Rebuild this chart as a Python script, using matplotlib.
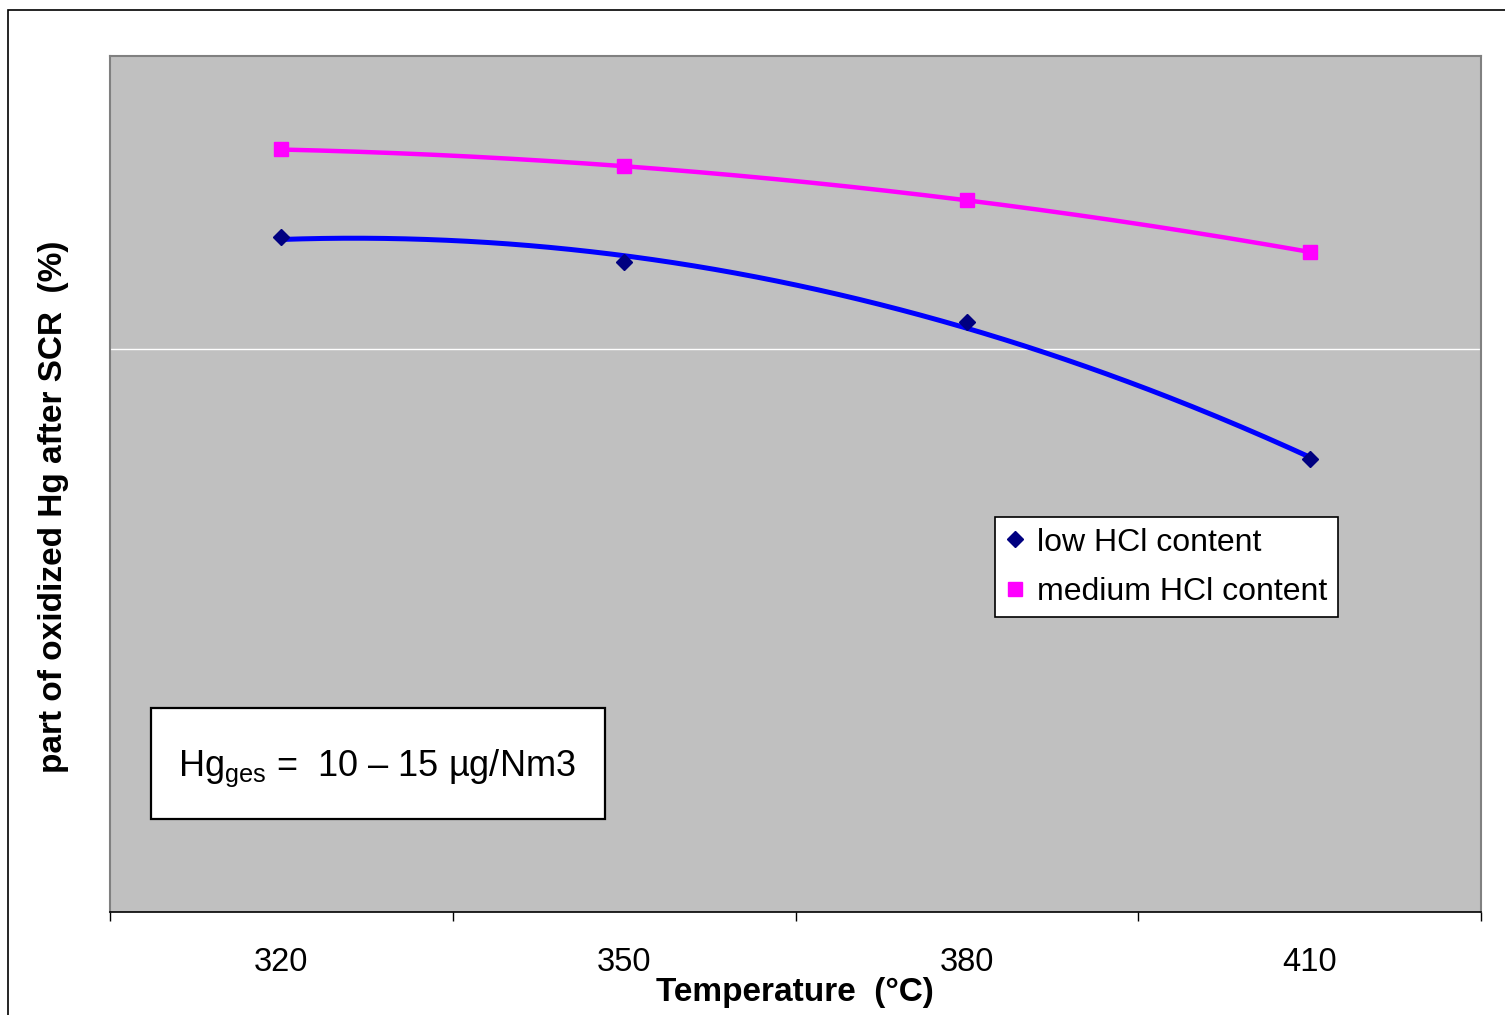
import numpy as np
import matplotlib
matplotlib.use("Agg")
import matplotlib.pyplot as plt
from matplotlib.patches import Rectangle

plt.rcParams['font.family'] = ['Liberation Sans', 'DejaVu Sans']
plt.rcParams['mathtext.fontset'] = 'custom'
plt.rcParams['mathtext.rm'] = 'Liberation Sans'
plt.rcParams['mathtext.it'] = 'Liberation Sans'

# ---- data ----
categories = ["320", "350", "380", "410"]
low_hcl = [59.9, 57.7, 52.4, 40.2]
medium_hcl = [67.7, 66.2, 63.2, 58.6]
series_names = ["low HCl content", "medium HCl content"]

W, H = 1505, 1015
fig = plt.figure(figsize=(W / 100, H / 100), dpi=100)

def fx(px):
    return px / W

def fy(py):
    return 1 - py / H

# outer chart border (only left and top visible)
fig.patches.append(Rectangle((fx(8), fy(1100)), fx(1700), (1100 - 10) / H,
                             transform=fig.transFigure, fill=False,
                             edgecolor='black', linewidth=1.2, clip_on=False))

left, right, top, bottom = 110, 1481, 56, 912
ax = fig.add_axes([fx(left), fy(bottom), (right - left) / W, (bottom - top) / H])
ax.set_facecolor('#C0C0C0')

x = np.arange(len(categories))
ax.set_xlim(-0.5, len(categories) - 0.5)
ax.set_ylim(0, 76)

# gridline
ax.set_yticks([50])
ax.yaxis.grid(True, color='white', linewidth=1.0)
ax.tick_params(axis='y', left=False, labelleft=False)
ax.set_axisbelow(True)

# trendlines (2nd order polynomial fit, as in the original)
xs = np.linspace(0, len(categories) - 1, 300)
c_low = np.polyfit(x, low_hcl, 2)
c_med = np.polyfit(x, medium_hcl, 2)
ax.plot(xs, np.polyval(c_med, xs), color='#FF00FF', linewidth=3.2, zorder=2)
ax.plot(xs, np.polyval(c_low, xs), color='#0000FF', linewidth=3.6, zorder=2)

# data markers
ax.plot(x, low_hcl, linestyle='none', marker='D', markersize=7.8,
        color='#000080', label=series_names[0], zorder=3)
ax.plot(x, medium_hcl, linestyle='none', marker='s', markersize=9.5,
        color='#FF00FF', label=series_names[1], zorder=3)

# x axis ticks
ax.set_xticks(x)
ax.set_xticklabels(categories, fontsize=23.5)
ax.set_xticks(np.arange(-0.5, len(categories)), minor=True)
ax.tick_params(axis='x', which='major', length=0, pad=25)
ax.tick_params(axis='x', which='minor', length=6.5, width=1.0, direction='out', color='black')

for s in ['left', 'top', 'right']:
    ax.spines[s].set_color('#808080')
    ax.spines[s].set_linewidth(1.5)
ax.spines['bottom'].set_color('black')
ax.spines['bottom'].set_linewidth(1.2)

# axis titles
fig.text(fx(795), fy(992), "Temperature  (°C)", fontsize=24, fontweight='bold',
         ha='center', va='center')
fig.text(fx(54), fy(507), "part of oxidized Hg after SCR  (%)", fontsize=24,
         fontweight='bold', rotation=90, ha='center', va='center')

# legend
leg = ax.legend(loc='upper left', bbox_to_anchor=(fx(995), fy(517)),
                bbox_transform=fig.transFigure, borderaxespad=0,
                fontsize=23, frameon=True, fancybox=False, framealpha=1,
                edgecolor='black', borderpad=0.33, labelspacing=0.6,
                handlelength=0.6, handletextpad=0.38, markerscale=1.0)
leg.get_frame().set_linewidth(1.2)

# annotation box
fig.patches.append(Rectangle((fx(151), fy(819)), (605 - 151) / W, (819 - 708) / H,
                             transform=fig.transFigure, facecolor='white',
                             edgecolor='black', linewidth=1.6, zorder=5))
fig.text(fx(377), fy(768), r"Hg$_{\mathrm{ges}}$ =  10 – 15 µg/Nm3", fontsize=26,
         ha='center', va='center', zorder=6)

fig.savefig("out.png", dpi=100)
